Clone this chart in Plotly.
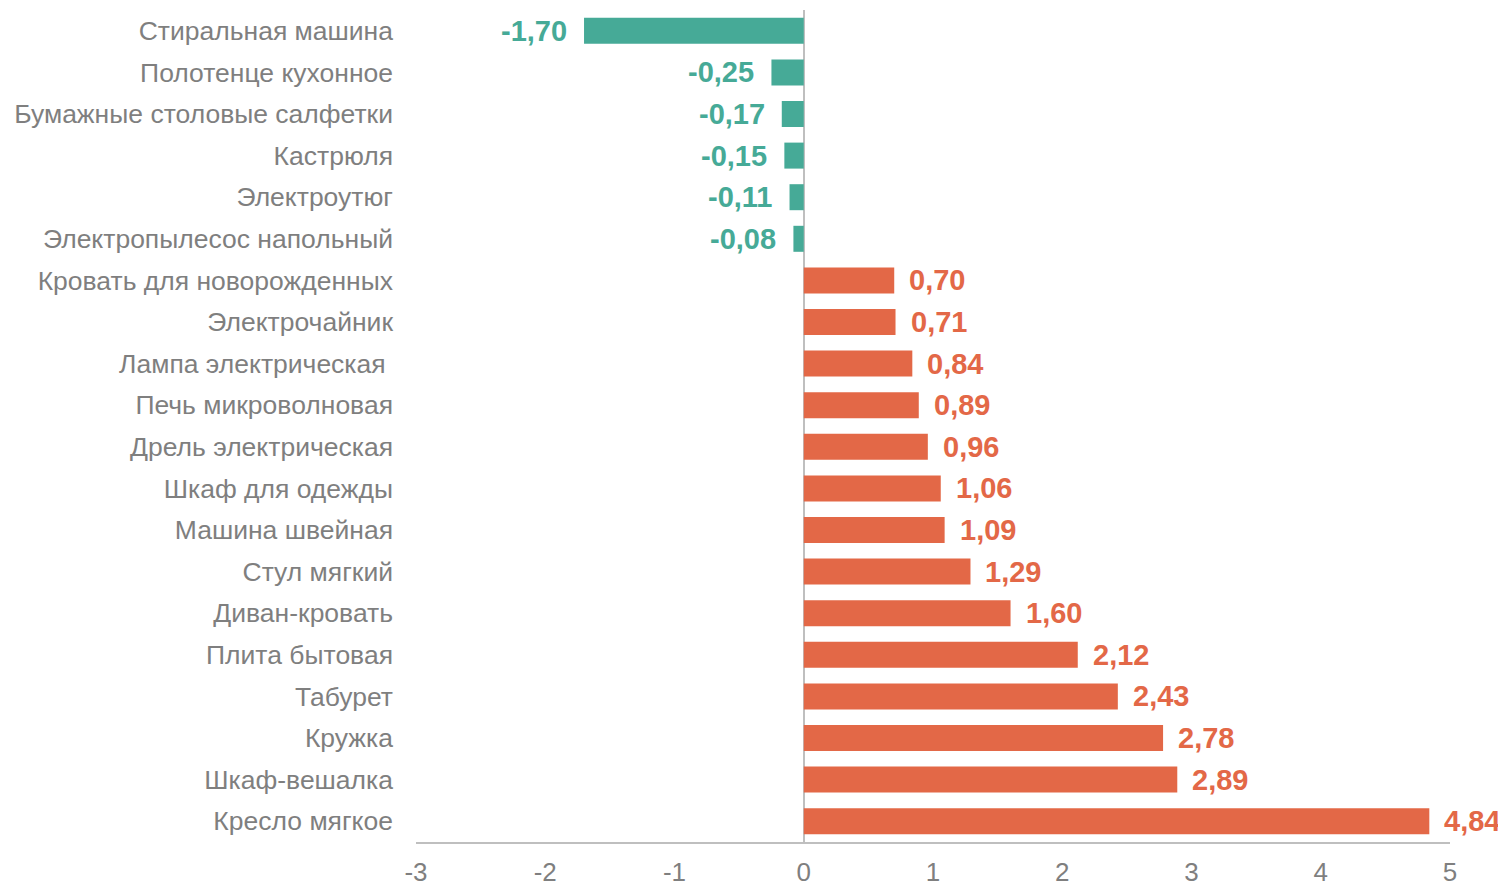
import plotly.graph_objects as go

categories = [
    "Стиральная машина", "Полотенце кухонное", "Бумажные столовые салфетки",
    "Кастрюля", "Электроутюг", "Электропылесос напольный",
    "Кровать для новорожденных", "Электрочайник", "Лампа электрическая ",
    "Печь микроволновая", "Дрель электрическая", "Шкаф для одежды",
    "Машина швейная", "Стул мягкий", "Диван-кровать", "Плита бытовая",
    "Табурет", "Кружка", "Шкаф-вешалка", "Кресло мягкое",
]
values = [-1.70, -0.25, -0.17, -0.15, -0.11, -0.08, 0.70, 0.71, 0.84, 0.89,
          0.96, 1.06, 1.09, 1.29, 1.60, 2.12, 2.43, 2.78, 2.89, 4.84]
x_ticks = [-3, -2, -1, 0, 1, 2, 3, 4, 5]

NEG = "#46AA97"
POS = "#E36847"
GRAY = "#7f7f7f"
LINE = "#bfbfbf"
FONT = "Liberation Sans, Arial, sans-serif"

colors = [NEG if v < 0 else POS for v in values]

fig = go.Figure(go.Bar(
    x=values, y=categories, orientation="h",
    marker=dict(color=colors, line=dict(width=0)),
    hoverinfo="x+y",
))

for c, v in zip(categories, values):
    fig.add_annotation(
        x=v, y=c, xref="x", yref="y",
        text=f"{v:.2f}".replace(".", ","),
        showarrow=False,
        xanchor="right" if v < 0 else "left",
        xshift=-15 if v < 0 else 13,
        font=dict(family=FONT, size=29, color=NEG if v < 0 else POS, weight="bold"),
    )

fig.update_layout(
    width=1506, height=883,
    margin=dict(l=408, r=64, t=2, b=49),
    paper_bgcolor="white", plot_bgcolor="white",
    bargap=0.375,
    showlegend=False,
    font=dict(family=FONT, color=GRAY),
)
fig.update_xaxes(
    range=[-3, 5], tickvals=x_ticks,
    ticktext=[str(t) for t in x_ticks],
    showgrid=False, zeroline=True, zerolinecolor=LINE, zerolinewidth=2,
    showline=True, linecolor=LINE, linewidth=2,
    tickfont=dict(family=FONT, size=26, color=GRAY),
    ticks="", ticklabelstandoff=6, automargin=False,
)
fig.update_yaxes(
    autorange="reversed", showgrid=False, zeroline=False, showline=False,
    tickfont=dict(family=FONT, size=26.5, color=GRAY),
    ticks="", ticklabelstandoff=22, automargin=False,
)

fig.write_html("out.html")
